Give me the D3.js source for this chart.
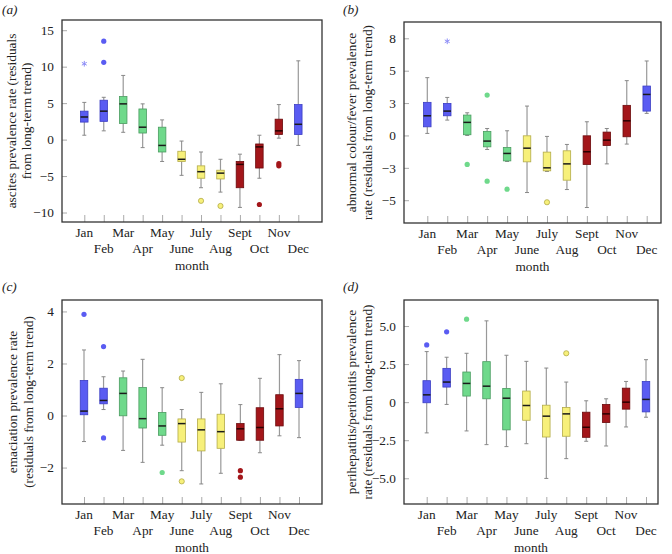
<!DOCTYPE html>
<html>
<head>
<meta charset="utf-8">
<script src="https://cdn.jsdelivr.net/npm/d3@7"></script>
<style>
  body { margin: 0; background: #fff; }
  text { font-family: "Liberation Serif", "DejaVu Serif", serif; fill: #222; }
</style>
</head>
<body>
<div class="canva"></div>
<script>
const months = ["Jan","Feb","Mar","Apr","May","June","July","Aug","Sept","Oct","Nov","Dec"]
const season = [0,0,1,1,1,2,2,2,3,3,3,0]   // winter, spring, summer, autumn

// [whisker low, q1, median, q3, whisker high]
const ascitesStats = [
  [0.6, 2.4, 3.1, 3.9, 5.1], [1.2, 2.5, 3.9, 5.4, 5.8], [1.0, 2.2, 4.9, 5.9, 8.8],
  [-1.1, 0.9, 1.7, 4.2, 4.9], [-3.0, -1.7, -0.8, 1.7, 2.7], [-4.9, -3.0, -2.7, -1.6, -0.2],
  [-6.6, -5.3, -4.4, -3.6, -1.7], [-7.2, -5.4, -4.6, -4.2, -2.7], [-9.3, -6.6, -3.4, -3.0, -2.0],
  [-5.3, -3.9, -1.0, -0.6, 0.6], [0.2, 0.7, 1.2, 2.8, 4.8], [-0.8, 0.7, 2.1, 4.8, 10.8]
]
const ascitesOutliers = [[1, 13.5], [1, 10.6], [6, -8.4], [7, -9.1], [9, -8.9], [10, -3.3], [10, -3.6]]
const ascitesExtremes = [[0, 10.4]]

const colourStats = [
  [0.17, 0.72, 1.64, 2.76, 4.82], [1.28, 1.64, 2.03, 2.67, 3.17], [0.0, 0.06, 1.09, 1.70, 1.89],
  [-1.17, -0.95, -0.47, 0.33, 0.58], [-2.17, -2.12, -1.5, -1.0, 0.39], [-4.76, -2.2, -1.06, -0.03, 2.45],
  [-3.0, -2.95, -2.7, -1.39, -0.08], [-4.51, -3.73, -2.37, -1.28, -0.75], [-6.01, -2.42, -1.36, -0.03, 1.14],
  [-2.37, -0.84, -0.39, 0.28, 0.58], [-0.72, -0.11, 1.22, 2.51, 4.57], [1.84, 2.03, 3.42, 4.12, 6.21]
]
const colourOutliers = [[2, -2.42], [3, 3.37], [3, -3.81], [4, -4.48], [6, -5.57]]
const colourExtremes = [[1, 7.85]]

const emaciationStats = [
  [-1.0, 0.03, 0.17, 1.35, 2.52], [0.23, 0.45, 0.58, 1.05, 1.49], [-1.34, -0.01, 0.85, 1.45, 1.71],
  [-1.80, -0.48, -0.12, 1.08, 2.16], [-1.14, -0.76, -0.40, 0.12, 1.07], [-2.12, -1.02, -0.31, -0.13, 0.23],
  [-2.63, -1.36, -0.55, -0.13, 0.89], [-2.22, -1.26, -0.62, 0.05, 1.22], [-0.96, -0.95, -0.51, -0.31, 0.42],
  [-1.43, -0.95, -0.46, 0.30, 1.43], [-0.78, -0.40, 0.26, 0.80, 2.34], [-0.85, 0.31, 0.85, 1.39, 2.11]
]
const emaciationOutliers = [[0, 3.89], [1, 2.65], [1, -0.86], [4, -2.19], [5, 1.44], [5, -2.53], [8, -2.12], [8, -2.37]]
const emaciationExtremes = []

const periStats = [
  [-2.02, -0.04, 0.48, 1.41, 3.32], [-0.15, 0.99, 1.32, 2.22, 2.95], [-1.89, 0.40, 1.23, 1.98, 3.21],
  [-2.79, 0.22, 1.05, 2.66, 5.34], [-2.92, -1.82, 0.26, 0.90, 3.08], [-2.73, -1.19, -0.22, 0.73, 2.68],
  [-5.01, -2.29, -0.92, -0.20, 2.24], [-3.71, -2.24, -0.77, -0.35, 1.32], [-2.57, -2.31, -1.65, -0.66, 0.09],
  [-2.88, -1.34, -0.77, -0.15, 0.22], [-1.63, -0.46, 0.0, 0.92, 1.36], [-0.99, -0.64, 0.18, 1.36, 2.79]
]
const periOutliers = [[0, 3.76], [1, 4.62], [2, 5.45], [7, 3.21]]
const periExtremes = []

const ascitesTicks = [-10, -5, 0, 5, 10, 15]
const ascitesTickLabels = ["\u221210", "\u22125", "0", "5", "10", "15"]
const colourTicks = [-5.4, -2.7, 0, 2.7, 5.4, 8.1]
const colourTickLabels = ["\u22125", "\u22123", "0", "3", "5", "8"]
const emaciationTicks = [-2, 0, 2, 4]
const emaciationTickLabels = ["\u22122", "0", "2", "4"]
const periTicks = [-5, -2.5, 0, 2.5, 5]
const periTickLabels = ["\u22125.0", "\u22122.5", "0", "2.5", "5.0"]

const fills = ["#5a5cf2", "#6fd98b", "#f7f07a", "#a3161a"]
const strokes = ["#3b3dc4", "#4a9c60", "#b3ab48", "#6b0a0c"]

const panels = [
  { tag: "(a)", lx: 2, ly: 14, left: 62, right: 322, top: 20, bottom: 222, x0: 84.3, x1: 298.3,
    dom: [-11.3, 16.4], stats: ascitesStats, out: ascitesOutliers, ext: ascitesExtremes,
    ticks: ascitesTicks, tickLabels: ascitesTickLabels,
    ylab: ["ascites prevalence rate (residuals", "from long-term trend)"], ylx: [11, 26] },
  { tag: "(b)", lx: 343, ly: 14, left: 404, right: 661, top: 22, bottom: 223, x0: 427.3, x1: 646.7,
    dom: [-7.3, 9.46], stats: colourStats, out: colourOutliers, ext: colourExtremes,
    ticks: colourTicks, tickLabels: colourTickLabels,
    ylab: ["abnormal colour/fever prevalence", "rate (residuals from long-term trend)"], ylx: [351, 367] },
  { tag: "(c)", lx: 2, ly: 291, left: 62, right: 322, top: 300, bottom: 504, x0: 84, x1: 299,
    dom: [-3.4, 4.44], stats: emaciationStats, out: emaciationOutliers, ext: emaciationExtremes,
    ticks: emaciationTicks, tickLabels: emaciationTickLabels,
    ylab: ["emaciation prevalence rate", "(residuals from long-term trend)"], ylx: [12, 28] },
  { tag: "(d)", lx: 343, ly: 291, left: 404, right: 658, top: 300, bottom: 504, x0: 426.7, x1: 646,
    dom: [-6.69, 6.71], stats: periStats, out: periOutliers, ext: periExtremes,
    ticks: periTicks, tickLabels: periTickLabels,
    ylab: ["perihepatitis/peritonitis prevalence", "rate (residuals from long-term trend)"], ylx: [351, 367] }
]

const svg = d3.select(".canva").append("svg")
  .attr("width", 672)
  .attr("height", 554)

const fs = "13.3px"

panels.forEach(p => {
  const g = svg.append("g")
  const x = d3.scalePoint().domain(months).range([p.x0, p.x1])
  const y = d3.scaleLinear().domain(p.dom).range([p.bottom, p.top])

  // panel tag
  g.append("text").attr("x", p.lx).attr("y", p.ly)
    .style("font-size", fs).style("font-style", "italic").text(p.tag)

  // y axis with inside ticks
  const yAxis = d3.axisLeft(y).tickValues(p.ticks)
    .tickFormat((d, i) => p.tickLabels[i])
    .tickSizeInner(-5).tickSizeOuter(0).tickPadding(8)
  const ya = g.append("g").attr("transform", `translate(${p.left},0)`).call(yAxis)
  ya.select(".domain").remove()
  ya.selectAll("line").attr("stroke", "#aaa")
  ya.selectAll("text").style("font-family", "Liberation Serif").style("font-size", fs).attr("fill", "#222")

  // x ticks inside the frame
  const xAxis = d3.axisBottom(x).tickSizeInner(-7).tickSizeOuter(0).tickFormat("")
  const xa = g.append("g").attr("transform", `translate(0,${p.bottom})`).call(xAxis)
  xa.select(".domain").remove()
  xa.selectAll("line").attr("stroke", "#aaa")

  // staggered month labels
  g.selectAll(".mlab").data(months).enter().append("text")
    .attr("x", d => x(d))
    .attr("y", (d, i) => p.bottom + (i % 2 === 0 ? 15 : 31))
    .attr("text-anchor", "middle")
    .style("font-size", fs)
    .text(d => d)
  g.append("text")
    .attr("x", (p.left + p.right) / 2)
    .attr("y", p.bottom + 48)
    .attr("text-anchor", "middle")
    .style("font-size", fs)
    .text("month")

  // y label, two lines
  const cy = (p.top + p.bottom) / 2
  p.ylab.forEach((t, k) => {
    g.append("text")
      .attr("transform", `translate(${p.ylx[k]},${cy}) rotate(-90)`)
      .attr("dy", "0.35em")
      .attr("text-anchor", "middle")
      .style("font-size", fs)
      .text(t)
  })

  // boxes
  const bw = 7.5, cap = 4
  const boxes = g.selectAll(".box").data(p.stats).enter().append("g")
    .attr("transform", (d, i) => `translate(${x(months[i])},0)`)
  boxes.append("line")
    .attr("y1", d => y(d[0])).attr("y2", d => y(d[1]))
    .attr("stroke", "#999").attr("stroke-width", 1.2)
  boxes.append("line")
    .attr("y1", d => y(d[3])).attr("y2", d => y(d[4]))
    .attr("stroke", "#999").attr("stroke-width", 1.2)
  boxes.append("line")
    .attr("x1", -cap / 2).attr("x2", cap / 2)
    .attr("y1", d => y(d[0])).attr("y2", d => y(d[0]))
    .attr("stroke", "#888")
  boxes.append("line")
    .attr("x1", -cap / 2).attr("x2", cap / 2)
    .attr("y1", d => y(d[4])).attr("y2", d => y(d[4]))
    .attr("stroke", "#888")
  boxes.append("rect")
    .attr("x", -bw / 2).attr("width", bw)
    .attr("y", d => y(d[3]))
    .attr("height", d => Math.max(1, y(d[1]) - y(d[3])))
    .attr("fill", (d, i) => fills[season[i]])
    .attr("stroke", (d, i) => strokes[season[i]])
    .attr("stroke-width", 0.8)
  boxes.append("line")
    .attr("x1", -bw / 2).attr("x2", bw / 2)
    .attr("y1", d => y(d[2])).attr("y2", d => y(d[2]))
    .attr("stroke", (d, i) => season[i] === 3 ? "#2a0000" : "#1a1a1a")
    .attr("stroke-width", 1.5)

  // outliers
  g.selectAll(".out").data(p.out).enter().append("circle")
    .attr("cx", d => x(months[d[0]]))
    .attr("cy", d => y(d[1]))
    .attr("r", 2.6)
    .attr("fill", d => fills[season[d[0]]])
    .attr("stroke", d => season[d[0]] === 2 ? "#b3ab48" : "none")
    .attr("stroke-width", 0.8)

  // extreme outliers
  g.selectAll(".ext").data(p.ext).enter().append("path")
    .attr("transform", d => `translate(${x(months[d[0]])},${y(d[1])})`)
    .attr("d", d3.symbol(d3.symbolAsterisk, 22))
    .attr("fill", "none")
    .attr("stroke", "#8c8cf7")
    .attr("stroke-width", 1)

  // frame
  g.append("rect")
    .attr("x", p.left).attr("y", p.top)
    .attr("width", p.right - p.left).attr("height", p.bottom - p.top)
    .attr("fill", "none").attr("stroke", "#333").attr("stroke-width", 1.3)
})
</script>
</body>
</html>
